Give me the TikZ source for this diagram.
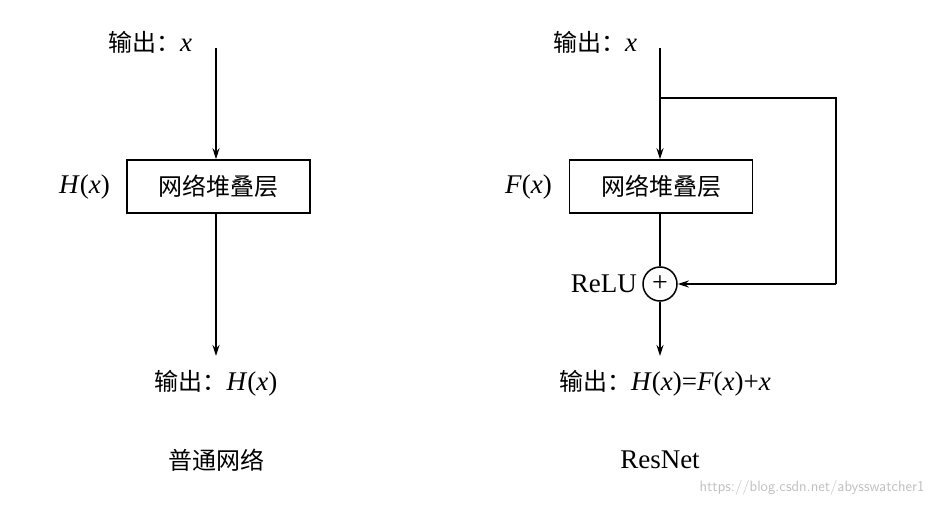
\documentclass[tikz,border=0pt]{standalone}
\usepackage{fontspec}
\usetikzlibrary{arrows.meta}
\setmainfont{Liberation Serif}
\newfontfamily\cjk{Noto Sans CJK SC}
\begin{document}
\begin{tikzpicture}[x=1pt,y=-1pt,
  box/.style={draw,line width=1.5pt,minimum width=183pt,minimum height=53pt,inner sep=0pt,font=\cjk\fontsize{24}{28}\selectfont},
  txt/.style={font=\fontsize{27}{30}\selectfont,inner sep=0pt},
  arr/.style={-{Stealth[length=11pt,width=7pt]},line width=1.5pt},
  ln/.style={line width=1.5pt}]
\useasboundingbox (0,0) rectangle (931,505);
% left
\node[txt] (lin) at (150,42) {{\cjk\fontsize{24}{28}\selectfont 输出：}\textit{x}};
\coordinate (lt) at (216,48);
\node[box] (lbox) at (218.5,186.5) {网络堆叠层};
\node[txt,anchor=east] (lh) at (110,187) {\textit{H}(\textit{x})};
\coordinate (lb) at (216,356);
\node[txt] (lout) at (216,383) {{\cjk\fontsize{24}{28}\selectfont 输出：}\textit{H}(\textit{x})};
\node[txt,font=\cjk\fontsize{24}{28}\selectfont] (lcap) at (216,460) {普通网络};
\draw[arr] (lt) -- (lt|-lbox.north);
\draw[arr] (lb|-lbox.south) -- (lb);
% right
\node[txt] (rin) at (595,42) {{\cjk\fontsize{24}{28}\selectfont 输出：}\textit{x}};
\coordinate (rt) at (660,48);
\coordinate (rs) at (660,98);
\coordinate (rc1) at (836,98);
\coordinate (rc2) at (836,284);
\node[box] (rbox) at (661,186.5) {网络堆叠层};
\node[txt,anchor=east] (rf) at (552,187) {\textit{F}(\textit{x})};
\node[draw,circle,line width=1.5pt,minimum size=34pt,inner sep=0pt,font=\fontsize{28}{28}\selectfont] (plus) at (660,284) {+};
\node[txt,anchor=east] (relu) at (637,284) {ReLU};
\coordinate (rb) at (660,356);
\node[txt] (rout) at (665,383) {{\cjk\fontsize{24}{28}\selectfont 输出：}\textit{H}(\textit{x})=\textit{F}(\textit{x})+\textit{x}};
\node[txt] (rcap) at (660,460) {ResNet};
\draw[arr] (rt) -- (rt|-rbox.north);
\draw[ln] (rs) -- (rc1) -- (rc2);
\draw[arr] (rc2) -- (plus.east);
\draw[ln] (rt|-rbox.south) -- (plus.north);
\draw[arr] (plus.south) -- (rb);
\node[font=\sffamily\fontsize{15}{17}\selectfont,text=black!25,anchor=east] (wm) at (928,488) {https://blog.csdn.net/abysswatcher1};
\end{tikzpicture}
\end{document}
